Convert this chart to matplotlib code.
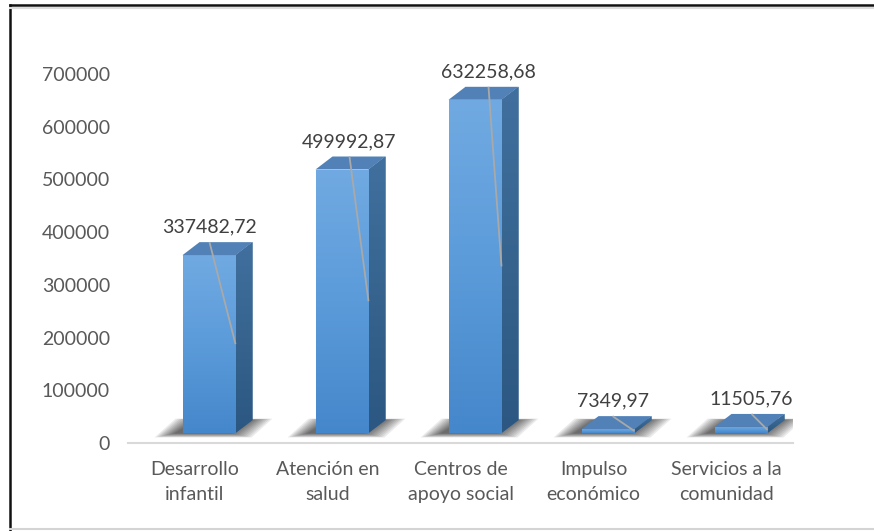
import numpy as np
import matplotlib
matplotlib.use("Agg")
import matplotlib.pyplot as plt
from matplotlib.patches import Polygon
from matplotlib.lines import Line2D
from matplotlib.colors import LinearSegmentedColormap

# ---- data ----
categories = ["Desarrollo\ninfantil", "Atención en\nsalud", "Centros de\napoyo social",
              "Impulso\neconómico", "Servicios a la\ncomunidad"]
values = [337482.72, 499992.87, 632258.68, 7349.97, 11505.76]
value_labels = ["337482,72", "499992,87", "632258,68", "7349,97", "11505,76"]
yticks = [0, 100000, 200000, 300000, 400000, 500000, 600000, 700000]
ytick_labels = ["0", "100000", "200000", "300000", "400000", "500000", "600000", "700000"]

# ---- layout (pixels) ----
plt.rcParams['font.family'] = ['Lato', 'DejaVu Sans']
W, H = 874, 531
fig = plt.figure(figsize=(W / 100, H / 100), dpi=100)
ax_left, ax_right = 128, 793
y0_px = 443
px_per_unit = 52.7 / 100000
ymax = 800000
ax_top_px = y0_px - ymax * px_per_unit
ax = fig.add_axes([ax_left / W, (H - y0_px) / H, (ax_right - ax_left) / W, (y0_px - ax_top_px) / H])

xpx = (ax_right - ax_left) / len(values)


def px2x(p):
    return p / xpx


def px2y(p):
    return p / px_per_unit


front_off = px2x(-12)
front_w = px2x(53)
base = px2y(10)
ddx = px2x(17)
ddy = px2y(13)
label_dx_px = [15, 22, 28, 19, 25]

front_cmap = LinearSegmentedColormap.from_list("f", ["#4587CB", "#5B9BDA", "#71AAE2"])
side_cmap = LinearSegmentedColormap.from_list("s", ["#2B5782", "#36648F", "#41709F"])
top_color = "#5181B6"
grad = np.linspace(0, 1, 256).reshape(-1, 1)

for i, v in enumerate(values):
    x0 = i + front_off
    x1 = x0 + front_w
    t = base + v
    # shadow on floor
    n = 10
    for k in range(n):
        e = px2x(2.2 * (n - k))
        ev = px2y(0.45 * (n - k))
        sh = Polygon([(x0 - e - px2x(6), base - ev), (x1 + e - px2x(6), base - ev),
                      (x1 + ddx + e - px2x(2), base + ddy + ev * 0.3),
                      (x0 + ddx - e - px2x(2), base + ddy + ev * 0.3)],
                     closed=True, facecolor="black", edgecolor="none", alpha=0.08, zorder=1)
        ax.add_patch(sh)
    # right side face
    side = Polygon([(x1, base), (x1 + ddx, base + ddy), (x1 + ddx, t + ddy), (x1, t)],
                   closed=True, facecolor="#36648F", edgecolor="none", zorder=2)
    ax.add_patch(side)
    im = ax.imshow(grad, extent=(x1, x1 + ddx, base, t + ddy), origin="lower",
                   cmap=side_cmap, aspect="auto", zorder=2.1)
    im.set_clip_path(side)
    # front face
    bars = ax.bar(x0, v, width=front_w, bottom=base, align="edge",
                  color="#5B9BDA", edgecolor="none", zorder=3)
    im2 = ax.imshow(grad, extent=(x0, x1, base, t), origin="lower",
                    cmap=front_cmap, aspect="auto", zorder=3.1)
    im2.set_clip_path(bars.patches[0])
    # top face
    top = Polygon([(x0, t), (x1, t), (x1 + ddx, t + ddy), (x0 + ddx, t + ddy)],
                  closed=True, facecolor=top_color, edgecolor="none", zorder=4)
    ax.add_patch(top)
    # label + leader line
    lx = i + px2x(label_dx_px[i])
    ax.plot([lx, x1], [t + ddy, base + v / 2], color="#A9A9A9", lw=1.3, zorder=5,
            solid_capstyle="butt")
    ax.text(lx, t + ddy + px2y(15), value_labels[i], ha="center", va="center",
            fontsize=14, color="#404040", zorder=6)

ax.set_xlim(-0.5, len(values) - 0.5)
ax.set_ylim(0, ymax)
ax.set_xticks(range(len(values)))
ax.set_xticklabels(categories, fontsize=14, color="#595959", linespacing=1.55)
ax.set_yticks(yticks)
ax.set_yticklabels(ytick_labels, fontsize=14, color="#595959")
ax.tick_params(axis="both", length=0)
ax.tick_params(axis="y", pad=13)
ax.tick_params(axis="x", pad=13)
for s in ["top", "right", "left"]:
    ax.spines[s].set_visible(False)
ax.spines["bottom"].set_color("#D9D9D9")
ax.spines["bottom"].set_linewidth(1.5)
ax.patch.set_visible(False)

# outer frame
fig.add_artist(Line2D([10 / W, 10 / W], [0, 1 - 5 / H], transform=fig.transFigure, color="#111111", lw=1.8))
fig.add_artist(Line2D([10 / W, 1], [1 - 5 / H, 1 - 5 / H], transform=fig.transFigure, color="#111111", lw=1.8))
fig.add_artist(Line2D([10 / W, 1], [1 - 8 / H, 1 - 8 / H], transform=fig.transFigure, color="#DDDDDD", lw=1.5))
fig.add_artist(Line2D([10 / W, 1], [2 / H, 2 / H], transform=fig.transFigure, color="#D4D4D4", lw=1.5))

fig.savefig("out.png", dpi=100)
